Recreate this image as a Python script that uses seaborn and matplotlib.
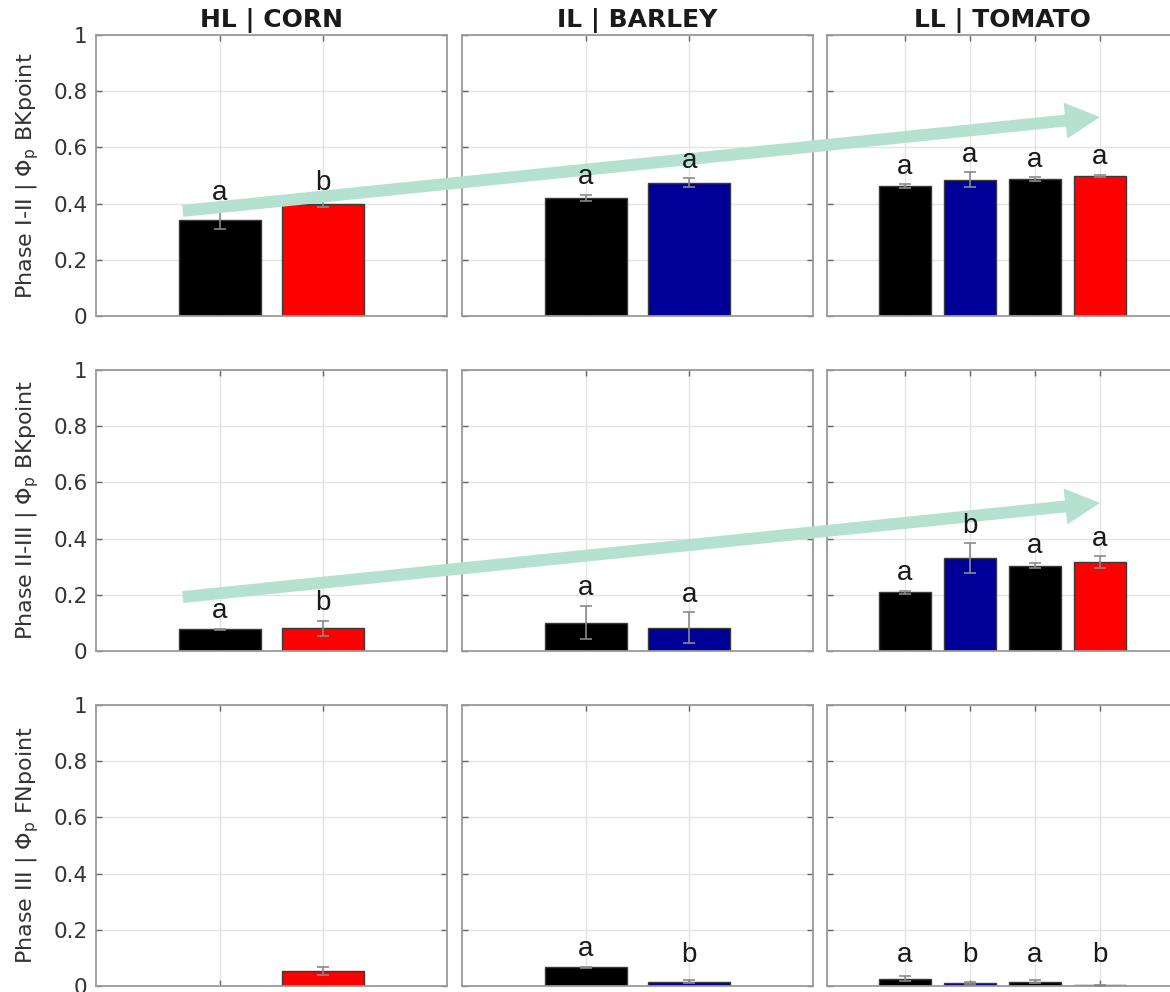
import numpy as np
import pandas as pd
import matplotlib
matplotlib.use("Agg")
import matplotlib.pyplot as plt
from matplotlib.patches import ConnectionPatch
import seaborn as sns

# ---- data -------------------------------------------------------------
crops = ["HL | CORN", "IL | BARLEY", "LL | TOMATO"]
phase_labels = [
    r"Phase I-II | $\Phi_\mathrm{p}$ BKpoint",
    r"Phase II-III | $\Phi_\mathrm{p}$ BKpoint",
    r"Phase III | $\Phi_\mathrm{p}$ FNpoint",
]

corn_treat = ["C1", "C2"]
barley_treat = ["B1", "B2"]
tomato_treat = ["T1", "T2", "T3", "T4"]

corn_colors = ["#000000", "#ff0000"]
barley_colors = ["#000000", "#000099"]
tomato_colors = ["#000000", "#000099", "#000000", "#ff0000"]

# one inner list per phase (rows of the grid)
corn_mean = [[0.342, 0.400], [0.077, 0.081], [np.nan, 0.054]]
corn_err = [[0.032, 0.013], [0.003, 0.027], [np.nan, 0.015]]
corn_letters = [["a", "b"], ["a", "b"], ["", ""]]

barley_mean = [[0.420, 0.475], [0.101, 0.083], [0.066, 0.016]]
barley_err = [[0.012, 0.016], [0.060, 0.056], [0.003, 0.004]]
barley_letters = [["a", "a"], ["a", "a"], ["a", "b"]]

tomato_mean = [[0.462, 0.485, 0.487, 0.498],
               [0.209, 0.331, 0.304, 0.317],
               [0.026, 0.011, 0.015, 0.003]]
tomato_err = [[0.008, 0.027, 0.006, 0.005],
              [0.005, 0.053, 0.008, 0.020],
              [0.008, 0.004, 0.006, 0.002]]
tomato_letters = [["a", "a", "a", "a"],
                  ["a", "b", "a", "a"],
                  ["a", "b", "a", "b"]]

yticks = [0, 0.2, 0.4, 0.6, 0.8, 1]
ytick_labels = ["0", "0.2", "0.4", "0.6", "0.8", "1"]

panels = [
    (corn_treat, corn_colors, corn_mean, corn_err, corn_letters),
    (barley_treat, barley_colors, barley_mean, barley_err, barley_letters),
    (tomato_treat, tomato_colors, tomato_mean, tomato_err, tomato_letters),
]

# ---- style ------------------------------------------------------------
sns.set_theme(style="white")
plt.rcParams["font.family"] = ["DejaVu Sans"]
plt.rcParams["mathtext.fontset"] = "dejavusans"

W, H = 1170, 992
fig = plt.figure(figsize=(W / 100, H / 100), dpi=100)

col_left = [96, 462, 827]
row_top = [35, 370, 705]
ax_w, ax_h = 351, 281

spine_col = "#9a9a9a"
grid_col = "#e4e4e4"
err_col = "#8a8a8a"
arrow_col = "#b4e1d0"

axes = [[None] * 3 for _ in range(3)]
for r in range(3):
    for c in range(3):
        treat, colors, mean, err, letters = panels[c]
        ax = fig.add_axes([col_left[c] / W, 1 - (row_top[r] + ax_h) / H,
                           ax_w / W, ax_h / H])
        axes[r][c] = ax
        df = pd.DataFrame({"treatment": treat, "value": mean[r]})
        sns.barplot(data=df, x="treatment", y="value", hue="treatment",
                    order=treat, hue_order=treat,
                    palette=dict(zip(treat, colors)), legend=False,
                    errorbar=None, width=0.8, dodge=False, saturation=1,
                    edgecolor="#3a3a3a", linewidth=1.0, ax=ax, zorder=2)
        pos = np.arange(len(treat))
        m = np.array(mean[r], dtype=float)
        e = np.array(err[r], dtype=float)
        ok = ~np.isnan(m)
        ax.errorbar(pos[ok], m[ok], yerr=e[ok], fmt="none", ecolor=err_col,
                    elinewidth=1.2, capsize=4, capthick=1.2, zorder=3)
        # significance letters sit above everything, including the arrows
        for p, mv, ev, lab in zip(pos, m, e, letters[r]):
            if lab and not np.isnan(mv):
                fig.text(p, max(mv + ev, 0.05) + 0.062, lab,
                         transform=ax.transData, ha="center", va="center",
                         fontsize=20, family="Liberation Sans",
                         color="#1a1a1a", zorder=12)

        ax.set_xlim(-1.2, len(treat) + 0.2)
        ax.set_ylim(0, 1)
        ax.set_xticks(pos)
        ax.set_xticklabels([])
        ax.set_yticks(yticks)
        ax.set_xlabel("")
        if c == 0:
            ax.set_yticklabels(ytick_labels)
            ax.set_ylabel(phase_labels[r], fontsize=16, color="#333333",
                          labelpad=9)
        else:
            ax.set_yticklabels([])
            ax.set_ylabel("")
        if r == 0:
            ax.set_title(crops[c], fontsize=18, fontweight="bold",
                         color="#1a1a1a", pad=6)
        ax.grid(True, color=grid_col, linewidth=1.0)
        ax.set_axisbelow(True)
        ax.tick_params(axis="both", direction="in", length=4, width=1,
                       color="#666666", labelsize=15.5, labelcolor="#333333",
                       left=True, right=True, top=True, bottom=True, pad=6)
        for s in ax.spines.values():
            s.set_color(spine_col)
            s.set_linewidth(1.3)
            s.set_visible(True)

# trend arrows spanning the three crops
arrow_style = "simple,head_length=25,head_width=26,tail_width=8.6"
for r, (y0, y1) in zip([0, 1], [(0.374, 0.708), (0.192, 0.527)]):
    con = ConnectionPatch(xyA=(-0.36, y0), coordsA=axes[r][0].transData,
                          xyB=(3.0, y1), coordsB=axes[r][2].transData,
                          arrowstyle=arrow_style, mutation_scale=1,
                          color=arrow_col, shrinkA=0, shrinkB=0,
                          linewidth=0, zorder=10)
    fig.add_artist(con)

fig.savefig("out.png", dpi=100)
